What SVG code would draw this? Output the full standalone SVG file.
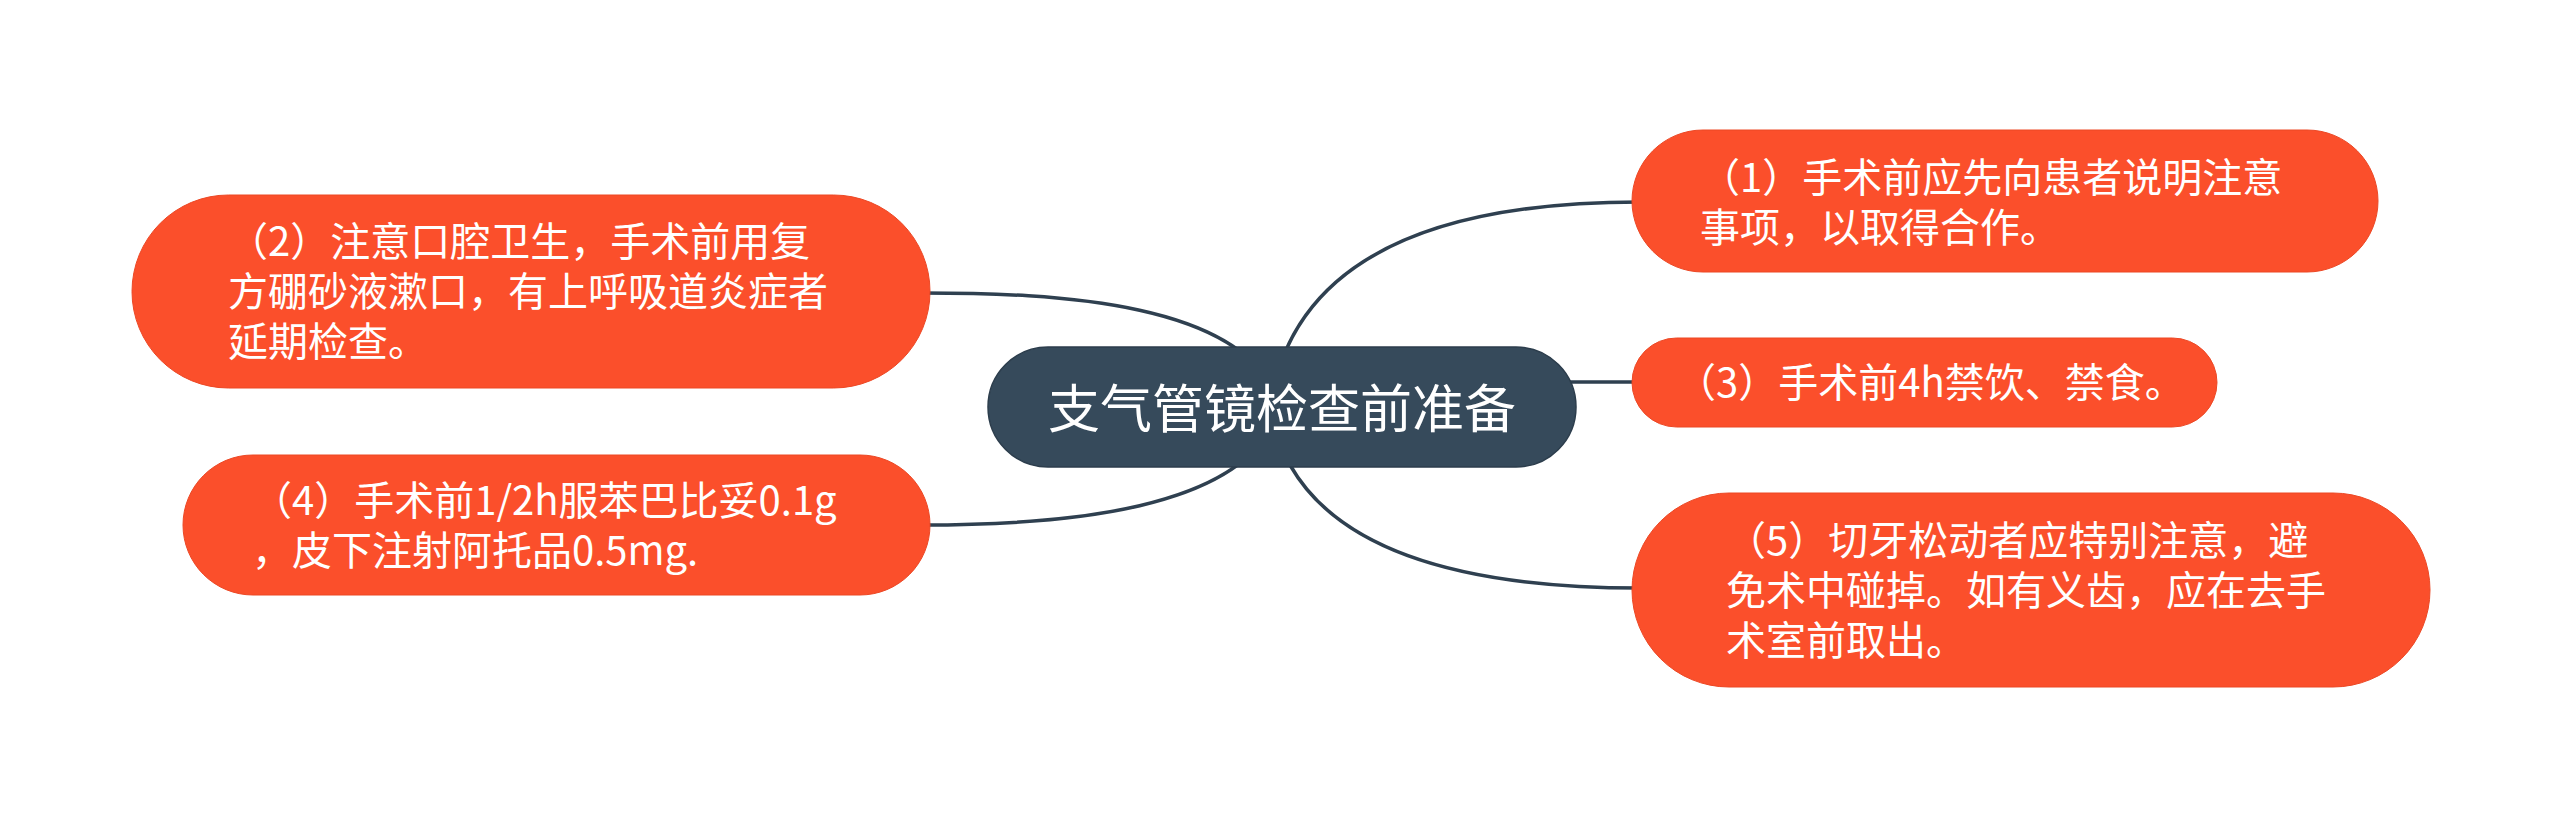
<svg xmlns="http://www.w3.org/2000/svg" width="2560" height="817" viewBox="0 0 2560 817">
<style>
.bg{fill:#ffffff}
.conn{fill:none;stroke:#2f4050;stroke-width:3.5;stroke-linecap:round}
.root{fill:#364a5b;stroke:#2c3d4c;stroke-width:1.5}
.leaf{fill:#fb4f2b;stroke:#ec4825;stroke-width:1}
.rt{font-family:"Noto Sans CJK SC","Noto Sans",sans-serif;font-size:52px;fill:#ffffff;text-anchor:middle}
.lt{font-family:"Noto Sans CJK SC","Noto Sans",sans-serif;font-size:40px;fill:#ffffff}
</style>
<rect class="bg" x="0" y="0" width="2560" height="817"/>
<g id="connectors">
<path class="conn" d="M 1270 407 Q 1300 202 1640 202"/>
<path class="conn" d="M 1560 382 L 1640 382"/>
<path class="conn" d="M 1270 407 Q 1300 588 1640 588"/>
<path class="conn" d="M 1280 410 C 1255 300 1050 293 922 293"/>
<path class="conn" d="M 1280 404 C 1255 514 1050 525 922 525"/>
</g>
<g id="root">
<rect class="root" x="988" y="347" width="588" height="120" rx="60" ry="60"/>
<text class="rt" x="1282" y="428">支气管镜检查前准备</text>
</g>
<g id="node1">
<rect class="leaf" x="1632" y="130" width="746" height="142" rx="71" ry="71"/>
<text class="lt" x="1700" y="192">（1）手术前应先向患者说明注意</text>
<text class="lt" x="1700" y="242">事项，以取得合作。</text>
</g>
<g id="node3">
<rect class="leaf" x="1632" y="338" width="585" height="89" rx="44.5" ry="44.5"/>
<text class="lt" x="1676" y="397">（3）手术前4h禁饮、禁食。</text>
</g>
<g id="node5">
<rect class="leaf" x="1632" y="493" width="798" height="194" rx="97" ry="97"/>
<text class="lt" x="1726" y="555">（5）切牙松动者应特别注意，避</text>
<text class="lt" x="1726" y="605">免术中碰掉。如有义齿，应在去手</text>
<text class="lt" x="1726" y="655">术室前取出。</text>
</g>
<g id="node2">
<rect class="leaf" x="132" y="195" width="798" height="193" rx="96.5" ry="96.5"/>
<text class="lt" x="228" y="256">（2）注意口腔卫生，手术前用复</text>
<text class="lt" x="228" y="306">方硼砂液漱口，有上呼吸道炎症者</text>
<text class="lt" x="228" y="356">延期检查。</text>
</g>
<g id="node4">
<rect class="leaf" x="183" y="455" width="747" height="140" rx="70" ry="70"/>
<text class="lt" x="252" y="515">（4）手术前1/2h服苯巴比妥0.1g</text>
<text class="lt" x="252" y="565">，皮下注射阿托品0.5mg.</text>
</g>
</svg>
